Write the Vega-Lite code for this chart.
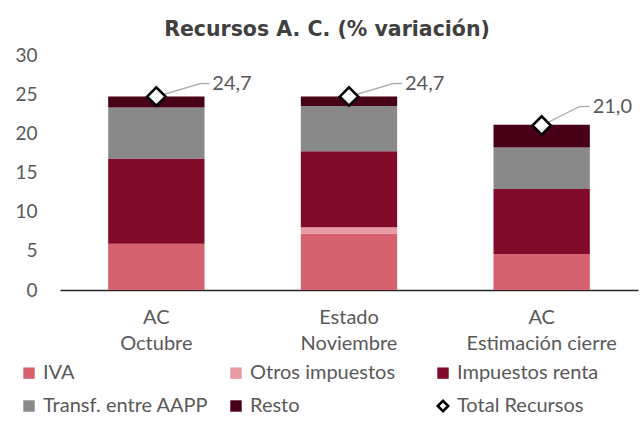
{
  "$schema": "https://vega.github.io/schema/vega-lite/v6.json",
  "autosize": "none",
  "width": 578,
  "height": 235,
  "padding": {"left": 60, "top": 55, "right": 3, "bottom": 131},
  "background": "#ffffff",
  "config": {
    "view": {"stroke": null},
    "locale": {"number": {"decimal": ",", "thousands": ".", "grouping": [3], "currency": ["", " €"]}},
    "font": "Lato",
    "axisY": {"labelOverlap": false}
  },
  "title": {
    "text": "Recursos A. C. (% variación)",
    "font": "DejaVu Sans",
    "fontSize": 20.5,
    "fontWeight": "bold",
    "color": "#404040",
    "anchor": "middle",
    "frame": "group",
    "baseline": "bottom",
    "offset": -14,
    "dx": -22
  },
  "resolve": {"axis": {"y": "independent"}},
  "datasets": {
    "parts": [
      {"cat": "AC|Octubre", "comp": "IVA", "ord": 1, "value": 5.9},
      {"cat": "AC|Octubre", "comp": "Otros impuestos", "ord": 2, "value": 0.0},
      {"cat": "AC|Octubre", "comp": "Impuestos renta", "ord": 3, "value": 10.9},
      {"cat": "AC|Octubre", "comp": "Transf. entre AAPP", "ord": 4, "value": 6.5},
      {"cat": "AC|Octubre", "comp": "Resto", "ord": 5, "value": 1.4},
      {"cat": "Estado|Noviembre", "comp": "IVA", "ord": 1, "value": 7.2},
      {"cat": "Estado|Noviembre", "comp": "Otros impuestos", "ord": 2, "value": 0.8},
      {"cat": "Estado|Noviembre", "comp": "Impuestos renta", "ord": 3, "value": 9.7},
      {"cat": "Estado|Noviembre", "comp": "Transf. entre AAPP", "ord": 4, "value": 5.8},
      {"cat": "Estado|Noviembre", "comp": "Resto", "ord": 5, "value": 1.2},
      {"cat": "AC|Estimación cierre", "comp": "IVA", "ord": 1, "value": 4.6},
      {"cat": "AC|Estimación cierre", "comp": "Otros impuestos", "ord": 2, "value": 0.0},
      {"cat": "AC|Estimación cierre", "comp": "Impuestos renta", "ord": 3, "value": 8.3},
      {"cat": "AC|Estimación cierre", "comp": "Transf. entre AAPP", "ord": 4, "value": 5.3},
      {"cat": "AC|Estimación cierre", "comp": "Resto", "ord": 5, "value": 2.9}
    ],
    "totals": [
      {"cat": "AC|Octubre", "total": 24.7, "grp": "a"},
      {"cat": "Estado|Noviembre", "total": 24.7, "grp": "a"},
      {"cat": "AC|Estimación cierre", "total": 21.0, "grp": "b"}
    ]
  },
  "encoding": {
    "x": {
      "field": "cat",
      "type": "nominal",
      "sort": ["AC|Octubre", "Estado|Noviembre", "AC|Estimación cierre"],
      "scale": {"paddingInner": 0.5, "paddingOuter": 0.25},
      "axis": {
        "title": null,
        "labelAngle": 0,
        "labelExpr": "split(datum.label, '|')",
        "labelFont": "Lato",
        "labelFontSize": 20,
        "labelColor": "#595959",
        "labelLineHeight": 26,
        "labelPadding": 17,
        "ticks": false,
        "domainColor": "#262626",
        "domainWidth": 1.5,
        "grid": false
      }
    }
  },
  "layer": [
    {
      "data": {"name": "parts"},
      "mark": {"type": "bar"},
      "encoding": {
        "y": {
          "field": "value",
          "type": "quantitative",
          "stack": "zero",
          "scale": {"domain": [0, 30]},
          "axis": {
            "title": null,
            "values": [0, 5, 10, 15, 20, 25, 30],
            "labelOverlap": false,
            "domain": false,
            "ticks": false,
            "grid": false,
            "labelFont": "Lato",
            "labelFontSize": 19,
            "labelColor": "#595959",
            "labelPadding": 23
          }
        },
        "order": {"field": "ord", "type": "quantitative"},
        "color": {
          "field": "comp",
          "type": "nominal",
          "scale": {
            "domain": ["IVA", "Transf. entre AAPP", "Otros impuestos", "Resto", "Impuestos renta", "Total Recursos"],
            "range": ["#d6626f", "#898989", "#e89ba4", "#480016", "#820a2b", "#ffffff"]
          },
          "legend": {
            "title": null,
            "orient": "none",
            "legendX": -41,
            "legendY": 308,
            "columns": 3,
            "gridAlign": "all",
            "columnPadding": 16,
            "rowPadding": 11,
            "symbolType": "square",
            "symbolSize": 130,
            "labelFont": "Lato",
            "labelFontSize": 20,
            "labelLimit": 400,
            "labelColor": "#595959",
            "labelOffset": 4,
            "encode": {
              "symbols": {
                "update": {
                  "shape": {"signal": "datum.value === 'Total Recursos' ? 'diamond' : 'square'"},
                  "stroke": {"signal": "datum.value === 'Total Recursos' ? '#000000' : 'transparent'"},
                  "strokeWidth": {"value": 2.5},
                  "size": {"signal": "datum.value === 'Total Recursos' ? 110 : 130"},
                  "opacity": {"value": 1},
                  "fillOpacity": {"value": 1}
                }
              }
            }
          }
        }
      }
    },
    {
      "data": {"name": "totals"},
      "transform": [{"filter": "datum.grp === 'a'"}],
      "mark": {"type": "rule", "color": "#a6a6a6", "strokeWidth": 1.3, "x2Offset": 44, "y2Offset": -13},
      "encoding": {
        "x": {"field": "cat", "type": "nominal", "bandPosition": 0.5},
        "x2": {"field": "cat", "bandPosition": 0.5},
        "y": {"field": "total", "type": "quantitative", "axis": null},
        "y2": {"field": "total"}
      }
    },
    {
      "data": {"name": "totals"},
      "transform": [{"filter": "datum.grp === 'a'"}],
      "mark": {"type": "rule", "color": "#a6a6a6", "strokeWidth": 1.3, "xOffset": 44, "yOffset": -13, "x2Offset": 53, "y2Offset": -13},
      "encoding": {
        "x": {"field": "cat", "type": "nominal", "bandPosition": 0.5},
        "x2": {"field": "cat", "bandPosition": 0.5},
        "y": {"field": "total", "type": "quantitative", "axis": null},
        "y2": {"field": "total"}
      }
    },
    {
      "data": {"name": "totals"},
      "transform": [{"filter": "datum.grp === 'b'"}],
      "mark": {"type": "rule", "color": "#a6a6a6", "strokeWidth": 1.3, "x2Offset": 38, "y2Offset": -19},
      "encoding": {
        "x": {"field": "cat", "type": "nominal", "bandPosition": 0.5},
        "x2": {"field": "cat", "bandPosition": 0.5},
        "y": {"field": "total", "type": "quantitative", "axis": null},
        "y2": {"field": "total"}
      }
    },
    {
      "data": {"name": "totals"},
      "transform": [{"filter": "datum.grp === 'b'"}],
      "mark": {"type": "rule", "color": "#a6a6a6", "strokeWidth": 1.3, "xOffset": 38, "yOffset": -19, "x2Offset": 48, "y2Offset": -19},
      "encoding": {
        "x": {"field": "cat", "type": "nominal", "bandPosition": 0.5},
        "x2": {"field": "cat", "bandPosition": 0.5},
        "y": {"field": "total", "type": "quantitative", "axis": null},
        "y2": {"field": "total"}
      }
    },
    {
      "data": {"name": "totals"},
      "mark": {"type": "point", "shape": "diamond", "filled": true, "size": 340, "stroke": "#000000", "strokeWidth": 2.5, "opacity": 1},
      "encoding": {
        "y": {"field": "total", "type": "quantitative", "axis": null},
        "color": {"datum": "Total Recursos", "type": "nominal"}
      }
    },
    {
      "data": {"name": "totals"},
      "transform": [{"filter": "datum.grp === 'a'"}],
      "mark": {"type": "text", "align": "left", "baseline": "middle", "dx": 56, "dy": -13, "font": "Lato", "fontSize": 20, "color": "#595959"},
      "encoding": {
        "y": {"field": "total", "type": "quantitative", "axis": null},
        "text": {"field": "total", "type": "quantitative", "format": ".1f"}
      }
    },
    {
      "data": {"name": "totals"},
      "transform": [{"filter": "datum.grp === 'b'"}],
      "mark": {"type": "text", "align": "left", "baseline": "middle", "dx": 51, "dy": -19, "font": "Lato", "fontSize": 20, "color": "#595959"},
      "encoding": {
        "y": {"field": "total", "type": "quantitative", "axis": null},
        "text": {"field": "total", "type": "quantitative", "format": ".1f"}
      }
    }
  ]
}
